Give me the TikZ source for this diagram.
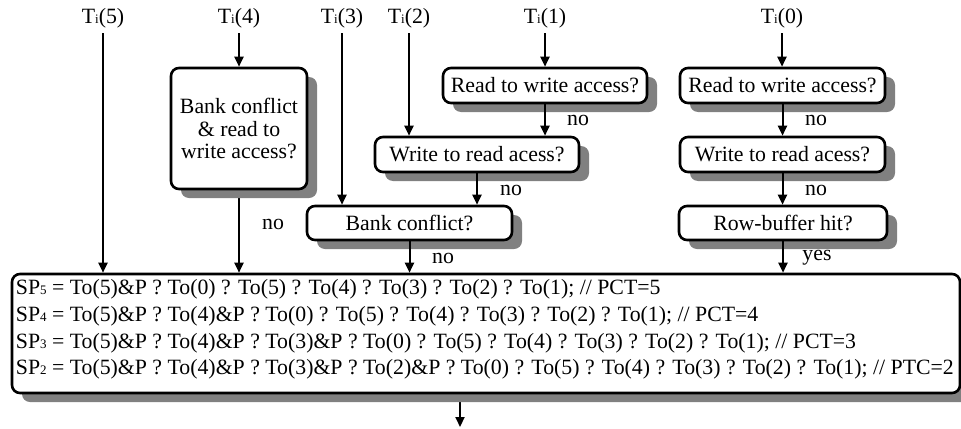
\documentclass[tikz,border=0pt]{standalone}
\usepackage{fontspec}
\setmainfont{Liberation Serif}
\usetikzlibrary{arrows.meta,shadows,backgrounds}
\newcommand{\smsub}[1]{{\fontsize{6.5}{7}\selectfont #1}}
\begin{document}
\begin{tikzpicture}[x=0.5pt,y=-0.5pt,
  every node/.style={font=\fontsize{10.9}{13.35}\selectfont},
  box/.style={draw, line width=1.3pt, rounded corners=4pt, fill=white, inner sep=0pt,
    drop shadow={shadow xshift=5pt, shadow yshift=-4.5pt, fill=black!50, opacity=1}},
  lbl/.style={inner sep=2.5pt},
  tag/.style={inner sep=0pt},
  arr/.style={-{Triangle[length=5pt,width=4.5pt]}, line width=1pt}]
\useasboundingbox (0,0) rectangle (961,428);

% top labels
\node[lbl] (t5) at (103,18) {T\smsub{i}(5)};
\node[lbl] (t4) at (239,18) {T\smsub{i}(4)};
\node[lbl] (t3) at (342,18) {T\smsub{i}(3)};
\node[lbl] (t2) at (409,18) {T\smsub{i}(2)};
\node[lbl] (t1) at (545,18) {T\smsub{i}(1)};
\node[lbl] (t0) at (782,18) {T\smsub{i}(0)};

% decision boxes
\node[box, minimum width=68pt, minimum height=60.5pt, align=center,
  font=\fontsize{10.9}{11.4}\selectfont] (b4) at (239,128.5)
  {Bank conflict\\ \& read to\\ write access?};
\node[box, minimum width=102pt, minimum height=17.5pt] (r1) at (545,85.5) {Read to write access?};
\node[box, minimum width=102.5pt, minimum height=17.5pt] (r0) at (782.5,85.5) {Read to write access?};
\node[box, minimum width=102pt, minimum height=17.5pt] (w2) at (477,154.5) {Write to read acess?};
\node[box, minimum width=102.5pt, minimum height=17.5pt] (w0) at (782.5,154.5) {Write to read acess?};
\node[box, minimum width=102.5pt, minimum height=17pt] (bc) at (409.5,223) {Bank conflict?};
\node[box, minimum width=104pt, minimum height=17pt] (rb) at (783,223) {Row-buffer hit?};

% big result box
\node[box, minimum width=474pt, minimum height=59.5pt] (big) at (486,333.5) {};
\node[inner sep=0pt, anchor=west, align=left] (bigtext) at (15.5,329.5)
  {SP\smsub{5} = To(5)\&P ? To(0) ? To(5) ? To(4) ? To(3) ? To(2) ? To(1); // PCT=5\\
   SP\smsub{4} = To(5)\&P ? To(4)\&P ? To(0) ? To(5) ? To(4) ? To(3) ? To(2) ? To(1); // PCT=4\\
   SP\smsub{3} = To(5)\&P ? To(4)\&P ? To(3)\&P ? To(0) ? To(5) ? To(4) ? To(3) ? To(2) ? To(1); // PCT=3\\
   SP\smsub{2} = To(5)\&P ? To(4)\&P ? To(3)\&P ? To(2)\&P ? To(0) ? To(5) ? To(4) ? To(3) ? To(2) ? To(1); // PTC=2};

\coordinate (out) at (460,427);

% connectors
\draw[arr] (t5.south) -- (t5.south |- big.north);
\draw[arr] (t4.south) -- (b4.north);
\begin{pgfonlayer}{background}
\draw[arr] (b4.south) -- (b4.south |- big.north);
\draw[arr] (big.south -| out) -- (out);
\end{pgfonlayer}
\draw[arr] (t3.south) -- (t3.south |- bc.north);
\draw[arr] (t2.south) -- (t2.south |- w2.north);
\draw[arr] (t1.south) -- (r1.north);
\draw[arr] (r1.south) -- (r1.south |- w2.north);
\draw[arr] (w2.south) -- (w2.south |- bc.north);
\draw[arr] (bc.south) -- (bc.south |- big.north);
\draw[arr] (t0.south) -- (t0.south |- r0.north);
\draw[arr] (r0.south) -- (r0.south |- w0.north);
\draw[arr] (w0.south) -- (w0.south |- rb.north);
\draw[arr] (rb.south) -- (rb.south |- big.north);

% edge labels
\node[tag] (n4) at (273,224) {no};
\node[tag] (n1) at (578,120) {no};
\node[tag] (n0) at (816,120) {no};
\node[tag] (n2) at (511,190) {no};
\node[tag] (nw0) at (816,190) {no};
\node[tag] (nbc) at (443,258) {no};
\node[tag] (yrb) at (817,258) {yes};
\end{tikzpicture}
\end{document}
